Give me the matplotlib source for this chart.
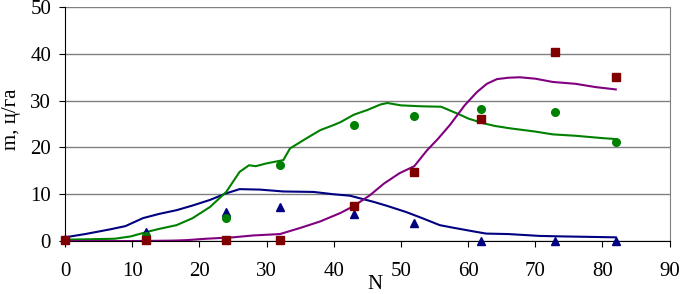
import matplotlib
matplotlib.use("Agg")
import matplotlib.pyplot as plt

plt.rcParams['font.family'] = ['Liberation Serif', 'DejaVu Serif']

# observed points
obs_x = [0, 12, 24, 32, 43, 52, 62, 73, 82]
tri_y = [0.5, 2.0, 6.3, 7.2, 5.8, 3.8, 0.1, 0.1, 0.1]
circ_y = [0.3, 1.0, 5.0, 16.2, 24.8, 26.8, 28.3, 27.6, 21.2]
sq_y = [0.3, 0.2, 0.2, 0.2, 7.6, 14.8, 26.0, 40.5, 35.0]

# model curves
blue_x = [0, 3, 6.7, 9, 11.6, 14, 16.6, 19, 21.6, 24, 26, 29, 32.5, 37, 40, 42.4,
          45.9, 48, 50.8, 53, 55.8, 58, 60.7, 62.7, 66, 70.7, 74, 78, 82]
blue_y = [0.8, 1.5, 2.5, 3.2, 4.9, 5.8, 6.6, 7.6, 8.8, 10.2, 11.1, 11.0, 10.6, 10.5,
          10.0, 9.7, 8.4, 7.5, 6.2, 5.0, 3.4, 2.8, 2.1, 1.6, 1.5, 1.1, 1.0, 0.9, 0.8]

green_x = [0, 4, 7.4, 9.8, 12.3, 14, 16.6, 19, 21.6, 24, 26, 27.4, 28.4, 30, 32.5,
           33.5, 36, 38, 40, 41, 43, 45, 47, 48, 50, 53, 56, 58.8, 60, 62.2, 64,
           66.2, 70, 72.6, 76, 80, 82]
green_y = [0.3, 0.4, 0.5, 1.0, 2.0, 2.6, 3.4, 4.9, 7.3, 10.5, 14.8, 16.2, 16.0, 16.6,
           17.3, 19.8, 22.0, 23.7, 24.8, 25.4, 27.0, 28.0, 29.2, 29.5, 29.0, 28.8,
           28.7, 27.0, 26.2, 25.2, 24.6, 24.1, 23.4, 22.8, 22.5, 22.0, 21.8]

purple_x = [0, 10, 16, 18.1, 21, 25, 28, 32, 35, 38, 41, 43, 45.4, 47.5, 49.8, 52,
            53.9, 55.5, 57.3, 59.5, 61.3, 62.8, 64.3, 66, 67.7, 70, 72.6, 76, 79, 82]
purple_y = [0.0, 0.0, 0.1, 0.2, 0.5, 0.8, 1.2, 1.5, 2.8, 4.2, 6.0, 7.5, 9.8, 12.3,
            14.5, 16.0, 19.4, 21.8, 24.8, 29.0, 31.8, 33.6, 34.6, 34.9, 35.0, 34.7,
            34.0, 33.6, 32.9, 32.4]

fig = plt.figure(figsize=(6.8, 2.94), dpi=100)
ax = fig.add_axes([0.0956, 0.180, 0.889, 0.796])

ax.plot(blue_x, blue_y, color='#000080', linewidth=1.5)
ax.plot(green_x, green_y, color='#008000', linewidth=1.5)
ax.plot(purple_x, purple_y, color='#800080', linewidth=1.5)

ax.plot(obs_x, tri_y, '^', color='#000080', markersize=6, clip_on=False, zorder=5)
ax.plot(obs_x, circ_y, 'o', color='#008000', markersize=5.5, clip_on=False, zorder=5)
ax.plot(obs_x, sq_y, 's', color='#800000', markersize=5.5, clip_on=False, zorder=5)

ax.set_xlim(0, 90)
ax.set_ylim(0, 50)
ax.set_xticks(range(0, 91, 10))
ax.set_yticks(range(0, 51, 10))
ax.yaxis.grid(True, color='#808080', linewidth=1)
ax.set_axisbelow(True)

ax.spines['top'].set_visible(False)
ax.spines['right'].set_color('#808080')
ax.spines['left'].set_color('black')
ax.spines['bottom'].set_color('black')
ax.tick_params(direction='out', length=4, labelsize=15)
ax.tick_params(axis='x', pad=11)
ax.tick_params(axis='y', pad=6)

ax.set_xlabel('N', fontsize=15)
ax.xaxis.set_label_coords(0.512, -0.145)
ax.set_ylabel('m, ц/га', fontsize=15)
ax.yaxis.set_label_coords(-0.072, 0.52)

fig.savefig('out.png', dpi=100)
